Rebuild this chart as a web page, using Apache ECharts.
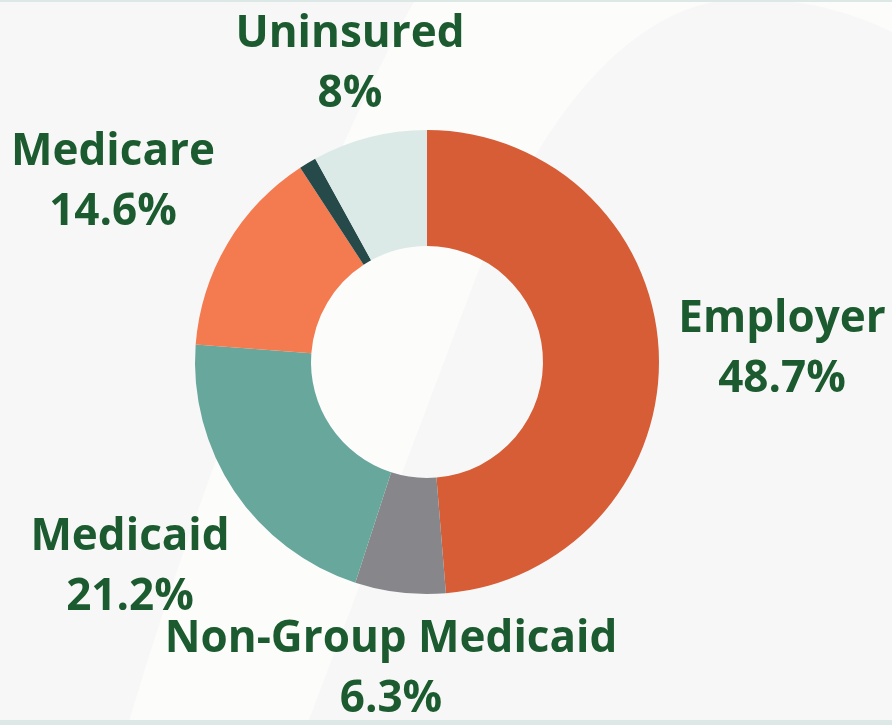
<!DOCTYPE html>
<html>
<head>
<meta charset="utf-8">
<title>Health coverage</title>
<script src="https://cdn.jsdelivr.net/npm/echarts@6/dist/echarts.min.js"></script>
<style>
  html, body { margin: 0; padding: 0; background: #f7f7f8; }
  #chart { width: 892px; height: 725px; }
</style>
</head>
<body>
<div id="chart"></div>
<script>
// data (clockwise from 12 o'clock)
var categories = ["Employer", "Non-Group Medicaid", "Medicaid", "Medicare", "Other", "Uninsured"];
var values = [48.7, 6.3, 21.2, 14.6, 1.2, 8];
var colors = ["#d65d36", "#87878b", "#68a79c", "#f47a50", "#26494a", "#dbeae7"];

// where each label sits (center of the text block)
var labelPos = {
  "Employer": [782, 349],
  "Non-Group Medicaid": [391, 669],
  "Medicaid": [130, 567],
  "Medicare": [113, 182],
  "Uninsured": [350, 64]
};

// light swoosh in the background, built from bezier segments
function bez(p0, p1, p2, p3, n, out) {
  for (var k = 0; k <= n; k++) {
    var t = k / n, u = 1 - t;
    out.push([
      u * u * u * p0[0] + 3 * u * u * t * p1[0] + 3 * u * t * t * p2[0] + t * t * t * p3[0],
      u * u * u * p0[1] + 3 * u * u * t * p1[1] + 3 * u * t * t * p2[1] + t * t * t * p3[1]
    ]);
  }
}
var swoosh = [];
bez([415, 0], [330, 150], [200, 480], [128, 725], 40, swoosh);
swoosh.push([307, 725], [475, 280]);
bez([475, 280], [520, 165], [600, 25], [713, 2], 30, swoosh);
bez([713, 2], [790, -8], [850, 12], [892, 32], 20, swoosh);
swoosh.push([892, 0]);

var chart = echarts.init(document.getElementById("chart"));

var data = [];
for (var i = 0; i < categories.length; i++) {
  data.push({
    name: categories[i],
    value: values[i],
    itemStyle: { color: colors[i] },
    label: { show: !!labelPos[categories[i]] }
  });
}

var option = {
  backgroundColor: "#f7f7f8",
  animation: false,
  graphic: [
    {
      type: "polygon",
      z: -10,
      silent: true,
      shape: { points: swoosh },
      style: { fill: "#fcfcfb" }
    },
    { type: "rect", z: -9, silent: true, shape: { x: 0, y: 0, width: 892, height: 2 }, style: { fill: "#dce8e6" } },
    { type: "rect", z: -9, silent: true, shape: { x: 0, y: 720, width: 892, height: 5 }, style: { fill: "#dce8e6" } }
  ],
  series: [{
    type: "pie",
    center: [427, 362],
    radius: [116, 232],
    startAngle: 90,
    clockwise: true,
    avoidLabelOverlap: false,
    itemStyle: { borderWidth: 0 },
    emphasis: { disabled: true },
    labelLine: { show: false },
    label: {
      position: "outside",
      formatter: function (p) {
        return p.name + "\n" + p.value + "%";
      },
      color: "#1c5b2f",
      fontFamily: "Open Sans",
      fontWeight: "bold",
      fontSize: 44,
      lineHeight: 60,
      align: "center"
    },
    labelLayout: function (params) {
      var name = categories[params.dataIndex];
      var pos = labelPos[name];
      if (!pos) return {};
      return { x: pos[0], y: pos[1], align: "center", verticalAlign: "middle" };
    },
    data: data
  }]
};

chart.setOption(option);
</script>
</body>
</html>
